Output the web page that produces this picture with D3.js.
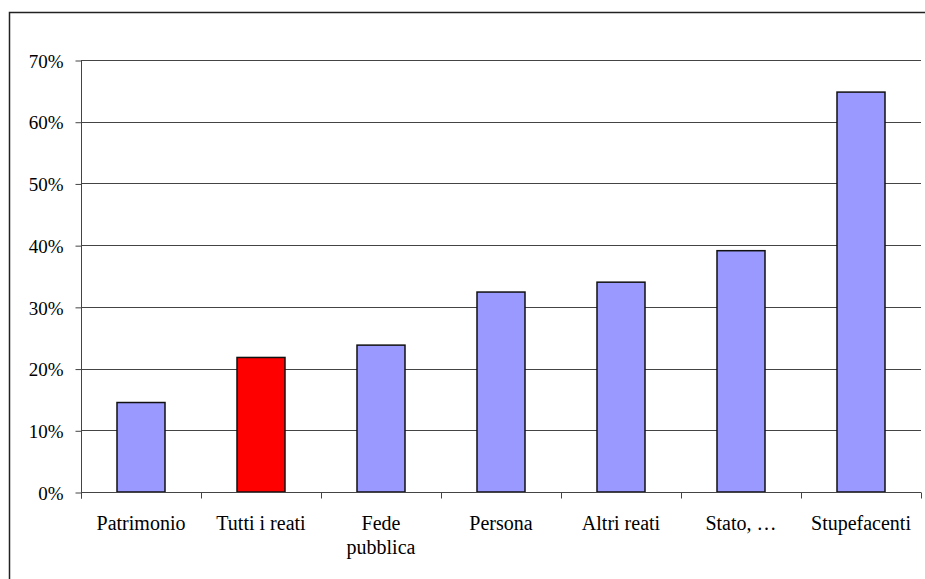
<!DOCTYPE html>
<html>
<head>
<meta charset="utf-8">
<script src="https://cdn.jsdelivr.net/npm/d3@7"></script>
<style>
  body { margin: 0; background: #fff; }
  svg { display: block; }
</style>
</head>
<body>
<svg id="chart"></svg>
<script>
    // data
    var categories = ['Patrimonio', 'Tutti i reati', 'Fede pubblica', 'Persona', 'Altri reati', 'Stato, \u2026', 'Stupefacenti'];
    var values = [0.145, 0.218, 0.238, 0.324, 0.340, 0.391, 0.648];
    var highlight = 'Tutti i reati';
    var yTicks = [0, 0.1, 0.2, 0.3, 0.4, 0.5, 0.6, 0.7];

    var width = 925;
    var height = 579;
    var margin = {top: 60, right: 4, bottom: 87, left: 81};
    var font = '"Liberation Serif", "Times New Roman", Times, "DejaVu Serif", serif';

    var chart = d3.select('#chart')
        .attr('width', width)
        .attr('height', height);

    // outer frame
    chart.append('rect')
        .attr('x', 9.5).attr('y', 12.5)
        .attr('width', width).attr('height', height)
        .attr('fill', 'none')
        .attr('stroke', '#222')
        .attr('stroke-width', 1.5);

    var x = d3.scaleBand()
        .domain(categories)
        .range([margin.left, width - margin.right])
        .paddingInner(0.6).paddingOuter(0.3);
    var band = d3.scaleBand().domain(categories).range([margin.left, width - margin.right]);
    var y = d3.scaleLinear().domain([0, 0.7]).range([height - margin.bottom, margin.top]);

    // gridlines
    chart.append('g').attr('class', 'grid')
        .selectAll('line')
        .data(yTicks.slice(1))
        .enter().append('line')
        .attr('x1', margin.left).attr('x2', width - margin.right)
        .attr('y1', function(d){ return Math.round(y(d)) + 0.5; })
        .attr('y2', function(d){ return Math.round(y(d)) + 0.5; })
        .attr('stroke', '#444')
        .attr('stroke-width', 1);

    // y axis
    var yAxis = d3.axisLeft(y).tickValues(yTicks).tickFormat(d3.format('.0%')).tickSize(6).tickPadding(12);
    var axisY = chart.append('g')
        .attr('transform', 'translate(' + (margin.left + 0.5) + ',0.5)')
        .call(yAxis)
        .attr('font-family', font)
        .attr('font-size', 19);
    axisY.select('.domain').attr('d', 'M0,' + y(0.7) + 'V' + (y(0) + 6)).attr('stroke', '#444');
    axisY.selectAll('.tick line').attr('stroke', '#444');
    axisY.selectAll('text').attr('fill', '#000').attr('dy', '0.35em');

    // bars
    chart.append('g').selectAll('rect')
        .data(categories)
        .enter().append('rect')
        .attr('x', function(d){ return x(d); })
        .attr('y', function(d, i){ return y(values[i]); })
        .attr('width', x.bandwidth())
        .attr('height', function(d, i){ return y(0) - y(values[i]); })
        .attr('fill', function(d){ return d === highlight ? '#ff0000' : '#9999ff'; })
        .attr('stroke', '#111')
        .attr('stroke-width', 1.5);

    // x axis
    var baseY = Math.round(y(0)) + 0.5;
    var axisX = chart.append('g');
    axisX.append('line')
        .attr('x1', margin.left).attr('x2', width - margin.right)
        .attr('y1', baseY).attr('y2', baseY)
        .attr('stroke', '#444');
    axisX.selectAll('.xtick')
        .data(categories.concat(['end']))
        .enter().append('line')
        .attr('x1', function(d, i){ return Math.round(margin.left + i * band.bandwidth()) + 0.5; })
        .attr('x2', function(d, i){ return Math.round(margin.left + i * band.bandwidth()) + 0.5; })
        .attr('y1', baseY).attr('y2', baseY + 6)
        .attr('stroke', '#444');

    var labels = axisX.selectAll('.xlabel')
        .data(categories)
        .enter().append('text')
        .attr('text-anchor', 'middle')
        .attr('font-family', font)
        .attr('font-size', 20)
        .attr('fill', '#000')
        .attr('y', y(0) + 38);
    labels.each(function(d){
        var parts = d === 'Fede pubblica' ? ['Fede', 'pubblica'] : [d];
        var t = d3.select(this);
        parts.forEach(function(p, j){
            t.append('tspan')
                .attr('x', band(d) + band.bandwidth() / 2)
                .attr('dy', j === 0 ? 0 : 24)
                .text(p);
        });
    });
</script>
</body>
</html>
